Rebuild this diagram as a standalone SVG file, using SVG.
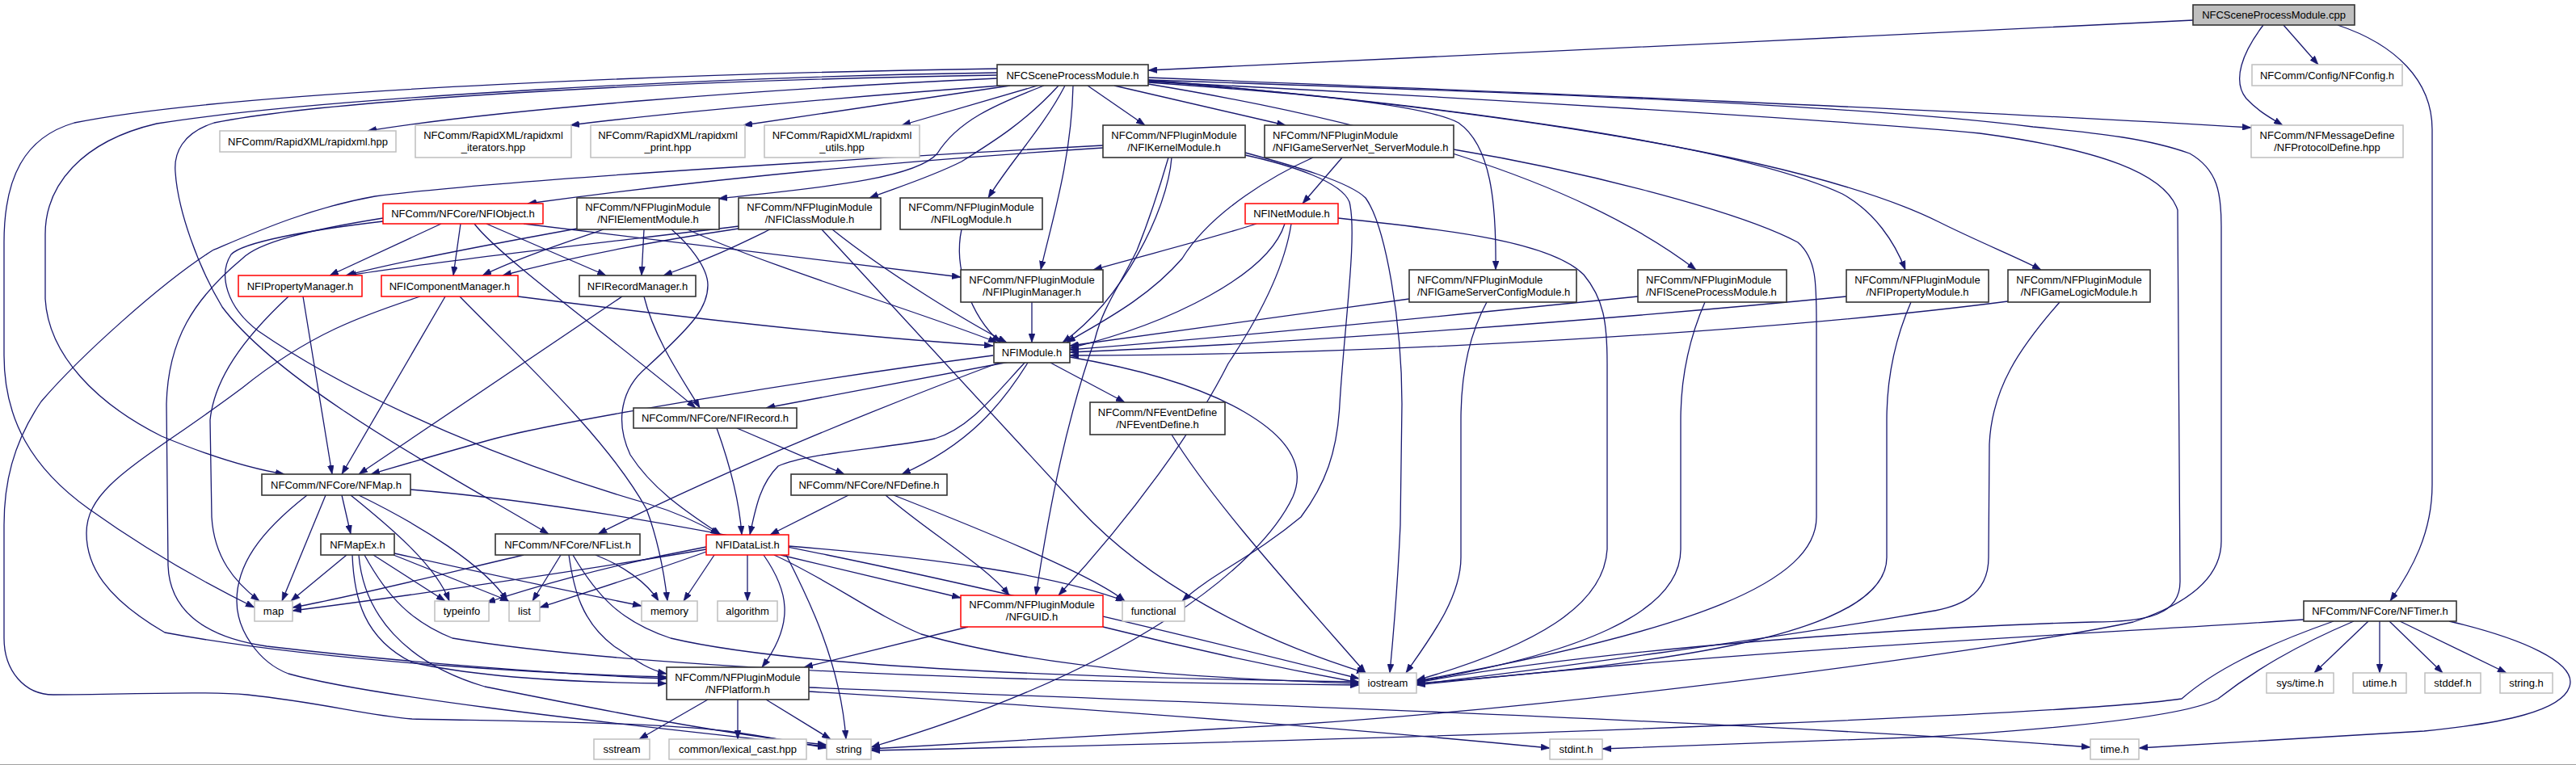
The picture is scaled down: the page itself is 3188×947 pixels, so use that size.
<svg xmlns="http://www.w3.org/2000/svg" width="3188" height="947" viewBox="0 0 3188 947">
<style>
text{font-family:"Liberation Sans",Arial,sans-serif;font-size:13px;fill:#000}
.c{text-anchor:middle}
.b{fill:#fff;stroke:#333;stroke-width:1.6}
.g{fill:#fff;stroke:#bfbfbf;stroke-width:1.5}
.r{fill:#fff;stroke:#ff0000;stroke-width:1.5}
.s{fill:#bfbfbf;stroke:#333;stroke-width:1.6}
#edges path{fill:none;stroke:#191970;stroke-width:1.3;marker-end:url(#ah)}
</style>
<defs>
<marker id="ah" viewBox="0 0 11 8" refX="11" refY="4" markerWidth="11" markerHeight="8" markerUnits="userSpaceOnUse" orient="auto"><path d="M0,0 L11,4 L0,8 z" fill="#191970" stroke="#191970" stroke-width="0.5"/></marker>
</defs>
<rect width="3188" height="947" fill="#fff"/>
<line x1="0" y1="946.5" x2="3188" y2="946.5" stroke="#a0a0a0" stroke-width="1"/>
<g id="edges">
<path d="M2714,25 C2300,45 1800,70 1421,87"/>
<path d="M2826,31 L2869,80"/>
<path d="M2801,31 C2775,65 2762,100 2780,122 C2795,138 2810,146 2825,155"/>
<path d="M2893,31 C2965,55 3010,100 3010,160 L3010,600 C3010,660 2985,705 2958,744"/>
<path d="M1234,97 C950,110 620,135 455,162"/>
<path d="M1238,106 C1050,120 820,140 706,155"/>
<path d="M1250,106 L920,155"/>
<path d="M1284,106 L1116,155"/>
<path d="M1346,106 L1417,155"/>
<path d="M1379,106 L1591,155"/>
<path d="M1292,106 C1230,130 1185,150 1160,190 C1130,225 980,235 889,246"/>
<path d="M1310,106 C1270,150 1230,175 1190,200 C1150,220 1110,232 1076,245"/>
<path d="M1318,106 C1290,160 1250,200 1223,245"/>
<path d="M1328,106 C1326,200 1300,280 1288,334"/>
<path d="M1234,85 C900,90 300,110 92,152 C30,170 5,220 5,300 L5,440 C5,520 40,580 110,630 C180,680 250,720 315,752"/>
<path d="M1234,90 C900,95 400,120 194,153 C100,175 56,230 56,290 L56,370 C60,440 120,500 200,540 C260,565 310,580 352,587"/>
<path d="M1234,93 C800,100 400,125 265,152 C225,165 215,190 217,213 C220,260 245,330 275,380 C350,480 560,590 679,661"/>
<path d="M1421,96 C1900,115 2400,135 2786,158"/>
<path d="M1421,102 C1600,115 1760,128 1805,152 C1845,180 1852,250 1851,334"/>
<path d="M1421,104 C1700,150 1950,220 2099,334"/>
<path d="M1421,100 C1800,130 2150,180 2280,240 C2320,262 2345,300 2358,334"/>
<path d="M1421,99 C1900,140 2250,200 2400,275 C2450,300 2500,320 2526,334"/>
<path d="M1421,101 C1800,120 2300,150 2450,165 C2600,185 2680,215 2695,260 L2698,720 C2698,760 2660,770 2590,770 C2400,775 2000,800 1753,845"/>
<path d="M1421,99 C1900,115 2300,130 2516,157 C2600,165 2660,172 2710,190 C2745,210 2749,240 2749,280 L2749,670 C2749,720 2700,750 2640,770 C2500,800 2000,870 1600,897 C1400,910 1200,920 1078,927"/>
<path d="M1365,183 C1100,200 850,225 653,252"/>
<path d="M1365,180 C1000,200 600,225 464,243 C380,258 310,290 263,310 C200,350 100,440 51,497 C15,550 5,600 5,650 L5,790 C5,830 30,860 66,860 C150,860 250,855 306,860 C400,870 450,885 510,890 C650,893 800,894 900,905 C950,912 990,920 1023,926"/>
<path d="M1450,195 C1445,260 1390,370 1315,424"/>
<path d="M1446,195 C1430,250 1415,290 1407,310 C1385,355 1365,380 1355,420 C1320,520 1300,620 1282,737"/>
<path d="M1541,192 C1600,205 1660,225 1670,250 C1680,290 1664,400 1658,500 C1655,560 1640,600 1610,640 C1550,690 1500,710 1463,744"/>
<path d="M1541,189 C1600,205 1670,225 1690,245 C1715,280 1735,400 1735,500 L1733,650 C1730,720 1725,780 1720,833"/>
<path d="M1661,195 L1612,252"/>
<path d="M1625,195 C1580,215 1500,260 1463,320 C1420,370 1360,400 1320,424"/>
<path d="M1799,185 C1950,210 2150,260 2225,300 C2248,320 2248,350 2248,400 L2248,640 C2248,720 2100,780 1753,843"/>
<path d="M1555,277 C1500,295 1420,315 1353,334"/>
<path d="M1590,277 C1570,340 1450,400 1324,431"/>
<path d="M1598,277 C1590,330 1560,390 1520,450 C1480,530 1400,640 1310,737"/>
<path d="M1656,270 C1800,285 1920,300 1960,340 C1985,370 1989,400 1989,450 L1989,680 C1985,750 1900,800 1753,842"/>
<path d="M1744,370 C1600,390 1450,410 1324,428"/>
<path d="M1840,374 C1815,420 1808,470 1808,520 L1808,690 C1808,740 1770,790 1740,833"/>
<path d="M2027,367 C1800,390 1550,415 1324,433"/>
<path d="M2110,374 C2090,420 2080,470 2080,520 L2080,680 C2080,760 1950,810 1753,844"/>
<path d="M2285,367 C2000,395 1600,425 1324,436"/>
<path d="M2365,374 C2345,420 2335,470 2335,520 L2335,690 C2335,780 2100,820 1753,846"/>
<path d="M2485,373 C2200,410 1700,440 1324,440"/>
<path d="M2549,374 C2500,430 2465,480 2462,550 L2461,690 C2461,740 2420,752 2388,757 C2200,790 1900,830 1753,847"/>
<path d="M2931,769 L2864,833"/>
<path d="M2945,769 L2945,833"/>
<path d="M2957,769 L3023,833"/>
<path d="M2970,769 L3102,833"/>
<path d="M3031,769 C3120,790 3190,820 3180,850 C3170,880 3100,895 3000,905 C2850,915 2700,922 2647,926"/>
<path d="M2851,767 C2600,785 2200,800 1753,848"/>
<path d="M2888,769 C2800,800 2740,830 2700,865 C2600,880 2000,910 1078,929"/>
<path d="M2913,769 C2840,800 2790,830 2745,865 C2700,890 2500,905 2388,912 C2200,920 2050,925 1983,927"/>
<path d="M714,283 C620,300 500,322 428,341"/>
<path d="M747,284 C700,300 640,320 597,341"/>
<path d="M797,284 L794,341"/>
<path d="M851,284 C950,330 1150,390 1234,424"/>
<path d="M831,284 C850,300 876,330 876,353 C876,380 860,400 800,455 C770,480 760,520 780,563 C810,610 860,640 892,662"/>
<path d="M914,280 C750,300 550,322 430,341"/>
<path d="M914,283 C800,300 700,320 622,341"/>
<path d="M953,284 C920,300 880,320 821,341"/>
<path d="M1030,284 C1100,340 1200,400 1246,424"/>
<path d="M1017,284 L1336,630 C1420,720 1550,790 1690,833"/>
<path d="M1190,284 C1180,330 1200,390 1238,424"/>
<path d="M1277,374 L1277,424"/>
<path d="M546,277 L408,341"/>
<path d="M570,277 L561,341"/>
<path d="M602,277 L750,341"/>
<path d="M587,277 C620,320 760,420 861,505"/>
<path d="M648,277 L1189,343"/>
<path d="M474,270 C380,285 320,300 300,320 C240,370 208,420 206,500 L208,700 C210,760 260,790 330,800 C500,820 700,835 825,840"/>
<path d="M474,274 C380,285 300,300 286,315 C270,340 280,380 320,410 C450,500 650,580 800,623 C840,635 870,650 890,662"/>
<path d="M551,367 L423,587"/>
<path d="M520,367 C450,390 383,413 300,480 C180,570 107,600 107,660 C107,700 130,740 204,783 C400,820 700,835 825,838"/>
<path d="M569,367 C640,440 750,540 800,630 C815,670 822,710 826,744"/>
<path d="M641,367 C900,400 1100,420 1229,428"/>
<path d="M375,367 L411,587"/>
<path d="M357,367 C300,420 265,470 260,520 L262,640 C265,690 290,720 321,744"/>
<path d="M770,367 L444,587"/>
<path d="M797,367 C810,420 845,470 866,505"/>
<path d="M1229,440 C1000,470 700,520 612,543 C550,560 500,575 459,587"/>
<path d="M1239,448 C1100,500 900,580 740,661"/>
<path d="M1249,448 L948,505"/>
<path d="M1269,448 C1230,490 1200,530 1157,543 C1100,555 1000,560 963,577 C940,600 935,630 928,662"/>
<path d="M1272,449 C1240,500 1200,550 1116,587"/>
<path d="M1300,449 L1392,498"/>
<path d="M1324,442 C1400,455 1480,475 1540,510 C1600,545 1615,580 1600,615 C1560,700 1400,830 1078,925"/>
<path d="M887,530 C905,580 915,620 918,662"/>
<path d="M912,530 L1045,587"/>
<path d="M1050,613 L953,662"/>
<path d="M1096,613 C1150,660 1220,700 1249,737"/>
<path d="M1106,613 C1200,650 1350,710 1392,744"/>
<path d="M1450,538 C1500,620 1600,730 1690,833"/>
<path d="M423,613 L434,661"/>
<path d="M403,613 L349,744"/>
<path d="M434,613 C480,650 540,700 556,744"/>
<path d="M444,613 C520,650 600,700 628,744"/>
<path d="M380,613 C320,660 293,700 293,744 C293,780 320,820 357,834 C450,860 700,890 1023,924"/>
<path d="M508,606 C800,630 1200,720 1682,840"/>
<path d="M429,687 L360,744"/>
<path d="M462,687 L551,744"/>
<path d="M487,687 L630,744"/>
<path d="M488,685 C600,710 720,735 794,750"/>
<path d="M436,687 C438,740 450,790 510,820 C600,840 720,845 825,846"/>
<path d="M451,687 C480,740 510,770 560,790 C800,830 1300,845 1682,848"/>
<path d="M444,687 C450,760 500,820 600,850 C750,880 900,910 1023,922"/>
<path d="M648,687 C550,710 430,740 362,752"/>
<path d="M694,687 L659,744"/>
<path d="M737,687 C770,700 800,720 815,744"/>
<path d="M704,687 C710,730 720,770 760,800 C790,820 805,830 825,834"/>
<path d="M709,687 C740,740 770,770 830,790 C1000,830 1400,840 1682,844"/>
<path d="M884,687 L846,744"/>
<path d="M925,687 L925,744"/>
<path d="M973,687 C1000,740 1040,820 1047,915"/>
<path d="M945,687 C975,730 985,770 943,826"/>
<path d="M966,687 L1189,740"/>
<path d="M976,676 C1150,690 1300,710 1392,744"/>
<path d="M958,687 C1030,720 1080,760 1140,785 C1300,830 1500,840 1682,846"/>
<path d="M874,683 C800,710 720,735 668,752"/>
<path d="M874,677 C750,700 650,730 602,746"/>
<path d="M874,680 C700,710 450,745 362,756"/>
<path d="M1198,776 L995,826"/>
<path d="M1365,776 C1500,810 1600,830 1682,845"/>
<path d="M876,866 L791,915"/>
<path d="M913,866 L913,915"/>
<path d="M948,866 L1028,915"/>
<path d="M1001,851 C1500,870 2200,895 2587,925"/>
<path d="M1001,856 C1400,880 1700,905 1918,926"/>
</g>
<g id="n_cpp"><rect class="s" x="2714" y="6" width="200" height="25"/><text class="c" x="2814" y="23">NFCSceneProcessModule.cpp</text></g>
<g id="n_h"><rect class="b" x="1234" y="80" width="187" height="26"/><text class="c" x="1327.5" y="97.5">NFCSceneProcessModule.h</text></g>
<g id="n_config"><rect class="g" x="2787" y="80" width="186" height="26"/><text class="c" x="2880" y="97.5">NFComm/Config/NFConfig.h</text></g>
<g id="n_protocol"><rect class="g" x="2786" y="155" width="188" height="40"/><text class="c" x="2880" y="171.5">NFComm/NFMessageDefine</text><text class="c" x="2880" y="186.5">/NFProtocolDefine.hpp</text></g>
<g id="n_rapidxml"><rect class="g" x="272" y="162" width="218" height="26"/><text class="c" x="381" y="179.5">NFComm/RapidXML/rapidxml.hpp</text></g>
<g id="n_iter"><rect class="g" x="514" y="155" width="193" height="40"/><text class="c" x="610.5" y="171.5">NFComm/RapidXML/rapidxml</text><text class="c" x="610.5" y="186.5">_iterators.hpp</text></g>
<g id="n_print"><rect class="g" x="731" y="155" width="191" height="40"/><text class="c" x="826.5" y="171.5">NFComm/RapidXML/rapidxml</text><text class="c" x="826.5" y="186.5">_print.hpp</text></g>
<g id="n_utils"><rect class="g" x="946" y="155" width="192" height="40"/><text class="c" x="1042" y="171.5">NFComm/RapidXML/rapidxml</text><text class="c" x="1042" y="186.5">_utils.hpp</text></g>
<g id="n_kernel"><rect class="b" x="1365" y="155" width="176" height="40"/><text class="c" x="1453" y="171.5">NFComm/NFPluginModule</text><text class="c" x="1453" y="186.5">/NFIKernelModule.h</text></g>
<g id="n_servernet"><rect class="b" x="1565" y="155" width="234" height="40"/><text x="1575" y="171.5">NFComm/NFPluginModule</text><text x="1575" y="186.5">/NFIGameServerNet_ServerModule.h</text></g>
<g id="n_element"><rect class="b" x="714" y="245" width="176" height="39"/><text class="c" x="802" y="261">NFComm/NFPluginModule</text><text class="c" x="802" y="276">/NFIElementModule.h</text></g>
<g id="n_class"><rect class="b" x="914" y="245" width="176" height="39"/><text class="c" x="1002" y="261">NFComm/NFPluginModule</text><text class="c" x="1002" y="276">/NFIClassModule.h</text></g>
<g id="n_log"><rect class="b" x="1114" y="245" width="176" height="39"/><text class="c" x="1202" y="261">NFComm/NFPluginModule</text><text class="c" x="1202" y="276">/NFILogModule.h</text></g>
<g id="n_object"><rect class="r" x="474" y="252" width="198" height="25"/><text class="c" x="573" y="269">NFComm/NFCore/NFIObject.h</text></g>
<g id="n_net"><rect class="r" x="1541" y="252" width="115" height="25"/><text class="c" x="1598.5" y="269">NFINetModule.h</text></g>
<g id="n_propmgr"><rect class="r" x="295" y="341" width="153" height="26"/><text class="c" x="371.5" y="358.5">NFIPropertyManager.h</text></g>
<g id="n_compmgr"><rect class="r" x="472" y="341" width="169" height="26"/><text class="c" x="556.5" y="358.5">NFIComponentManager.h</text></g>
<g id="n_recmgr"><rect class="b" x="717" y="341" width="144" height="26"/><text class="c" x="789" y="358.5">NFIRecordManager.h</text></g>
<g id="n_pluginmgr"><rect class="b" x="1189" y="334" width="176" height="40"/><text class="c" x="1277" y="350.5">NFComm/NFPluginModule</text><text class="c" x="1277" y="365.5">/NFIPluginManager.h</text></g>
<g id="n_gsconfig"><rect class="b" x="1744" y="334" width="207" height="40"/><text x="1754" y="350.5">NFComm/NFPluginModule</text><text x="1754" y="365.5">/NFIGameServerConfigModule.h</text></g>
<g id="n_sceneproc"><rect class="b" x="2027" y="334" width="184" height="40"/><text x="2037" y="350.5">NFComm/NFPluginModule</text><text x="2037" y="365.5">/NFISceneProcessModule.h</text></g>
<g id="n_propmod"><rect class="b" x="2285" y="334" width="176" height="40"/><text class="c" x="2373" y="350.5">NFComm/NFPluginModule</text><text class="c" x="2373" y="365.5">/NFIPropertyModule.h</text></g>
<g id="n_gamelogic"><rect class="b" x="2485" y="334" width="176" height="40"/><text class="c" x="2573" y="350.5">NFComm/NFPluginModule</text><text class="c" x="2573" y="365.5">/NFIGameLogicModule.h</text></g>
<g id="n_module"><rect class="b" x="1230" y="424" width="94" height="25"/><text class="c" x="1277" y="441">NFIModule.h</text></g>
<g id="n_record"><rect class="b" x="784" y="505" width="202" height="25"/><text class="c" x="885" y="522">NFComm/NFCore/NFIRecord.h</text></g>
<g id="n_event"><rect class="b" x="1349" y="498" width="167" height="40"/><text class="c" x="1432.5" y="514.5">NFComm/NFEventDefine</text><text class="c" x="1432.5" y="529.5">/NFEventDefine.h</text></g>
<g id="n_map_h"><rect class="b" x="324" y="587" width="184" height="26"/><text class="c" x="416" y="604.5">NFComm/NFCore/NFMap.h</text></g>
<g id="n_define"><rect class="b" x="979" y="587" width="193" height="26"/><text class="c" x="1075.5" y="604.5">NFComm/NFCore/NFDefine.h</text></g>
<g id="n_mapex"><rect class="b" x="397" y="661" width="91" height="26"/><text class="c" x="442.5" y="678.5">NFMapEx.h</text></g>
<g id="n_list_h"><rect class="b" x="613" y="661" width="179" height="26"/><text class="c" x="702.5" y="678.5">NFComm/NFCore/NFList.h</text></g>
<g id="n_datalist"><rect class="r" x="874" y="662" width="102" height="25"/><text class="c" x="925" y="679">NFIDataList.h</text></g>
<g id="n_guid"><rect class="r" x="1189" y="737" width="176" height="39"/><text class="c" x="1277" y="753">NFComm/NFPluginModule</text><text class="c" x="1277" y="768">/NFGUID.h</text></g>
<g id="n_map"><rect class="g" x="315" y="744" width="47" height="25"/><text class="c" x="338.5" y="761">map</text></g>
<g id="n_typeinfo"><rect class="g" x="538" y="744" width="67" height="25"/><text class="c" x="571.5" y="761">typeinfo</text></g>
<g id="n_list"><rect class="g" x="630" y="744" width="38" height="25"/><text class="c" x="649" y="761">list</text></g>
<g id="n_memory"><rect class="g" x="794" y="744" width="69" height="25"/><text class="c" x="828.5" y="761">memory</text></g>
<g id="n_algorithm"><rect class="g" x="888" y="744" width="74" height="25"/><text class="c" x="925" y="761">algorithm</text></g>
<g id="n_functional"><rect class="g" x="1389" y="744" width="77" height="25"/><text class="c" x="1427.5" y="761">functional</text></g>
<g id="n_timer"><rect class="b" x="2851" y="744" width="189" height="25"/><text class="c" x="2945.5" y="761">NFComm/NFCore/NFTimer.h</text></g>
<g id="n_platform"><rect class="b" x="825" y="826" width="176" height="40"/><text class="c" x="913" y="842.5">NFComm/NFPluginModule</text><text class="c" x="913" y="857.5">/NFPlatform.h</text></g>
<g id="n_iostream"><rect class="g" x="1682" y="833" width="71" height="25"/><text class="c" x="1717.5" y="850">iostream</text></g>
<g id="n_systime"><rect class="g" x="2805" y="833" width="83" height="25"/><text class="c" x="2846.5" y="850">sys/time.h</text></g>
<g id="n_utime"><rect class="g" x="2912" y="833" width="66" height="25"/><text class="c" x="2945" y="850">utime.h</text></g>
<g id="n_stddef"><rect class="g" x="3001" y="833" width="69" height="25"/><text class="c" x="3035.5" y="850">stddef.h</text></g>
<g id="n_stringh"><rect class="g" x="3094" y="833" width="65" height="25"/><text class="c" x="3126.5" y="850">string.h</text></g>
<g id="n_sstream"><rect class="g" x="735" y="915" width="69" height="25"/><text class="c" x="769.5" y="932">sstream</text></g>
<g id="n_lexical"><rect class="g" x="828" y="915" width="170" height="25"/><text class="c" x="913" y="932">common/lexical_cast.hpp</text></g>
<g id="n_string"><rect class="g" x="1023" y="915" width="55" height="25"/><text class="c" x="1050.5" y="932">string</text></g>
<g id="n_stdint"><rect class="g" x="1918" y="915" width="65" height="25"/><text class="c" x="1950.5" y="932">stdint.h</text></g>
<g id="n_timeh"><rect class="g" x="2587" y="915" width="60" height="25"/><text class="c" x="2617" y="932">time.h</text></g>
</svg>
